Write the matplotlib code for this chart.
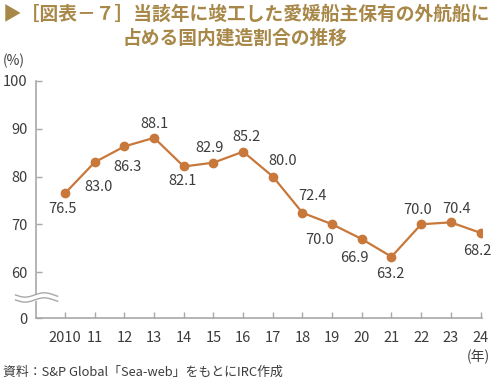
import numpy as np
import matplotlib
matplotlib.use('Agg')
import matplotlib.pyplot as plt

plt.rcParams['font.family'] = ['Noto Sans CJK JP', 'DejaVu Sans']

years = list(range(2010, 2025))
year_labels = ['2010', '11', '12', '13', '14', '15', '16', '17', '18', '19', '20', '21', '22', '23', '24']
share = [76.5, 83.0, 86.3, 88.1, 82.1, 82.9, 85.2, 80.0, 72.4, 70.0, 66.9, 63.2, 70.0, 70.4, 68.2]
# label offsets in pixels (dx, dy) from each point
label_off = [(-3, -16), (4, -25), (3, -21), (0, 14), (-1, -15), (-4, 15), (3, 15), (10, 16),
             (10, 17), (-13, -16), (-7, -19), (-1, -17), (-4, 14), (6, 13), (-3, -18)]

line_col = '#c8783a'
txt_col = '#3c3c3c'
axis_col = '#a8a8a8'
title_col = '#a88848'

fig = plt.figure(figsize=(5, 3.82), dpi=100)
ax = fig.add_axes([0.072, 0.1675, 0.892, 0.6205])

ybot = 50.37  # where the "0" of the broken axis sits
ax.plot(years, share, color=line_col, lw=1.6, marker='o', ms=6, zorder=3)
for x, v, (dx, dy) in zip(years, share, label_off):
    ax.annotate(f'{v:.1f}', (x, v), xytext=(dx, dy), textcoords='offset pixels',
                ha='center', va='center', fontsize=10.5, color=txt_col)

ax.set_xlim(2009.02, 2024.05)
ax.set_ylim(ybot, 100)
ax.set_xticks(years)
ax.set_xticklabels(year_labels)
ax.set_yticks([ybot, 60, 70, 80, 90, 100])
ax.set_yticklabels(['0', '60', '70', '80', '90', '100'])
for s in ['top', 'right']:
    ax.spines[s].set_visible(False)
for s in ['left', 'bottom']:
    ax.spines[s].set_color(axis_col)
    ax.spines[s].set_linewidth(1.2)
ax.tick_params(axis='both', direction='in', length=4, width=1, color=axis_col,
               labelsize=10.5, labelcolor=txt_col)
ax.tick_params(axis='x', pad=9)
ax.tick_params(axis='y', pad=6)

# axis break mark
t = np.linspace(0, 1, 60)
wx = 2008.33 + t * 1.42
w = 0.45 * np.sin(2 * np.pi * 1.1 * t + np.pi)
ax.fill_between(wx, 54.15 + w, 55.2 + w, color='white', clip_on=False, zorder=4)
ax.plot(wx, 55.2 + w, color=axis_col, lw=1.0, clip_on=False, zorder=5)
ax.plot(wx, 54.15 + w, color=axis_col, lw=1.0, clip_on=False, zorder=5)

fig.text(0.028, 0.84, '(%)', fontsize=10, color=txt_col, ha='center', va='center')
fig.text(0.98, 0.066, '(年)', fontsize=10, color=txt_col, ha='right', va='center')
fig.text(0.006, 0.026, '資料：S&P Global「Sea-web」をもとにIRC作成', fontsize=9.3,
         color=txt_col, ha='left', va='center')

fig.text(0.006, 0.963, '▶［図表－７］当該年に竣工した愛媛船主保有の外航船に', fontsize=13.5,
         color=title_col, ha='left', va='center', fontweight='bold',
         family=['Noto Sans CJK JP', 'DejaVu Sans'])
fig.text(0.47, 0.901, '占める国内建造割合の推移', fontsize=13.5,
         color=title_col, ha='center', va='center', fontweight='bold')

fig.savefig('out.png', dpi=100)
